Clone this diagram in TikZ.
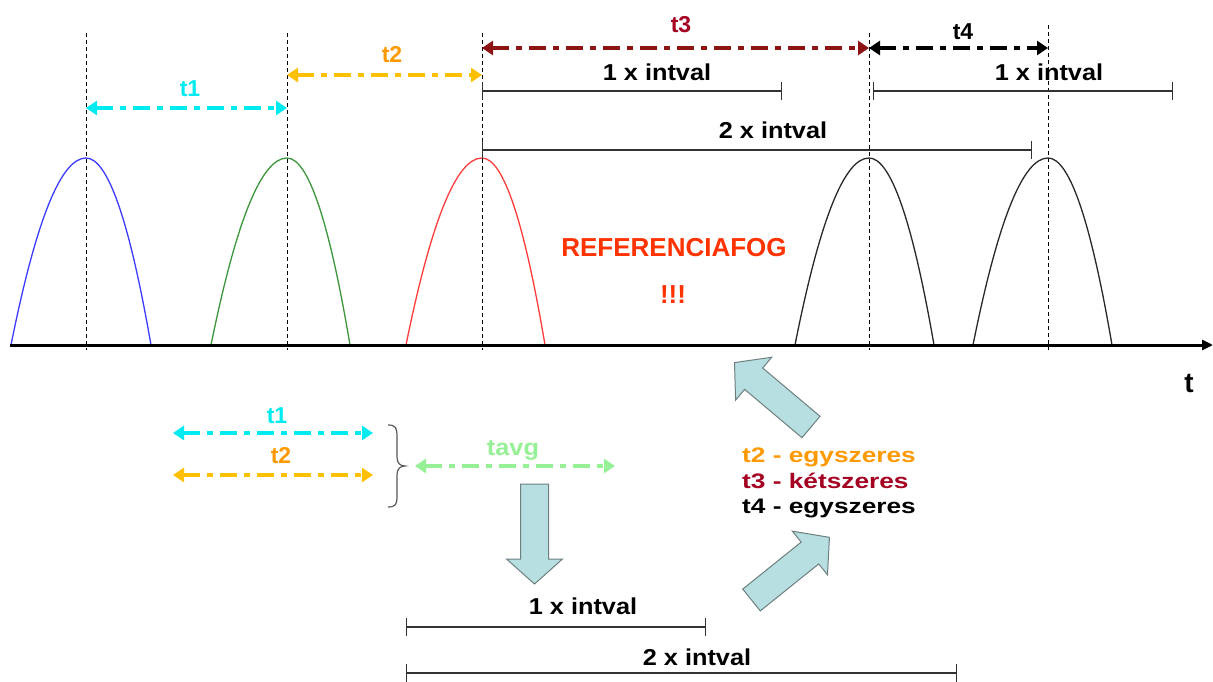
\documentclass[tikz,border=0pt]{standalone}
\usepackage{fontspec}
\setmainfont{Liberation Sans}
\usetikzlibrary{arrows.meta}

\definecolor{tone}{RGB}{0,235,240}
\definecolor{ttwoline}{RGB}{255,192,0}
\definecolor{ttwotext}{RGB}{255,153,0}
\definecolor{tthree}{RGB}{165,0,33}
\definecolor{tthreeline}{RGB}{140,20,20}
\definecolor{tavgc}{RGB}{150,240,150}
\definecolor{refred}{RGB}{255,51,0}
\definecolor{archblue}{RGB}{60,60,255}
\definecolor{archgreen}{RGB}{60,150,60}
\definecolor{archred}{RGB}{255,60,60}
\definecolor{archblack}{RGB}{40,40,40}
\definecolor{blockfill}{RGB}{183,222,224}
\definecolor{blockdraw}{RGB}{110,127,128}
\definecolor{barc}{RGB}{50,50,50}

\newcommand\widetext[2]{\scalebox{#1}[1]{#2}}

\tikzset{
  lbl/.style={font=\bfseries\fontsize{23}{27}\selectfont, inner sep=0pt, anchor=base},
  biglbl/.style={font=\bfseries\fontsize{21}{25}\selectfont, inner sep=0pt, anchor=base west},
  dimarrow/.style={line width=3.3pt, dash pattern=on 17pt off 7pt on 6pt off 7pt,
    {Triangle[length=11pt,width=14pt]}-{Triangle[length=11pt,width=14pt]}},
  intbar/.style={draw=barc, line width=1.3pt, {Bar[width=18pt,line width=1.3pt]}-{Bar[width=18pt,line width=1.3pt]}},
  guide/.style={draw=black, line width=1pt, dash pattern=on 4pt off 3pt},
  archline/.style={line width=1.3pt},
  blockstyle/.style={fill=blockfill, draw=blockdraw, line width=1pt, line join=miter},
  blockarr/.pic={\path[blockstyle] (0,-14) -- (75,-14) -- (75,-28) -- (100,0) -- (75,28) -- (75,14) -- (0,14) -- cycle;}
}

\begin{document}
\begin{tikzpicture}[x=1pt,y=-1pt]
\useasboundingbox (0,0) rectangle (1213,682);
\fill[white] (0,0) rectangle (1213,682);

% peak positions of the five teeth
\coordinate (p1) at (86,158);
\coordinate (p2) at (287,158);
\coordinate (p3) at (482,158);
\coordinate (p4) at (869,158);
\coordinate (p5) at (1048,158);

% vertical guides through the peaks
\coordinate (g1t) at (86,33);   \coordinate (g1b) at (86,350);
\coordinate (g2t) at (287,33);  \coordinate (g2b) at (287,350);
\coordinate (g3t) at (482,33);  \coordinate (g3b) at (482,350);
\coordinate (g4t) at (869,33);  \coordinate (g4b) at (869,350);
\coordinate (g5t) at (1048,25); \coordinate (g5b) at (1048,350);
\foreach \g in {1,...,5} \draw[guide] (g\g t) -- (g\g b);

% tooth signals (parabolic arches)
\foreach \xl/\xp/\xr/\c in {11/86/151/archblue, 211/287/350/archgreen, 406/482/545/archred,
                             795/869/934/archblack, 973/1048/1112/archblack}
  \draw[archline, \c] (\xl,345)
    .. controls ({\xl+(\xp-\xl)/3},220.3) and ({\xp-(\xp-\xl)/3},158) .. (\xp,158)
    .. controls ({\xp+(\xr-\xp)/3},158) and ({\xr-(\xr-\xp)/3},220.3) .. (\xr,345);

% time axis
\coordinate (ax0) at (10,345);
\coordinate (ax1) at (1213,345);
\draw[line width=3pt, -{Triangle[length=11pt,width=10pt]}] (ax0) -- (ax1);
\node[lbl, font=\bfseries\fontsize{28}{32}\selectfont] (tlab) at (1189,392) {t};

% measured periods
\coordinate (a1l) at (86,108);  \coordinate (a1r) at (287,108);
\coordinate (a2l) at (287,75);  \coordinate (a2r) at (482,75);
\coordinate (a3l) at (482,48);  \coordinate (a3r) at (869,48);
\coordinate (a4l) at (869,48);  \coordinate (a4r) at (1048,48);
\draw[dimarrow, tone] (a1l) -- (a1r);
\draw[dimarrow, ttwoline] (a2l) -- (a2r);
\draw[dimarrow, tthreeline] (a3l) -- (a3r);
\draw[dimarrow, black] (a4l) -- (a4r);
\node[lbl, text=tone] (t1top) at (190,97) {t1};
\node[lbl, text=ttwotext] (t2top) at (392,63) {t2};
\node[lbl, text=tthree] (t3top) at (681,33) {t3};
\node[lbl, text=black] (t4top) at (963,40) {t4};

% interval rulers above the teeth
\coordinate (i1l) at (482,91);  \coordinate (i1r) at (782,91);
\coordinate (i2l) at (873,91);  \coordinate (i2r) at (1173,91);
\coordinate (i3l) at (482,150); \coordinate (i3r) at (1032,150);
\draw[intbar] (i1l) -- (i1r);
\draw[intbar] (i2l) -- (i2r);
\draw[intbar] (i3l) -- (i3r);
\node[lbl] (iv1) at (657,81) {\widetext{1.1}{1 x intval}};
\node[lbl] (iv2) at (1049,81) {\widetext{1.1}{1 x intval}};
\node[lbl] (iv3) at (773,139) {\widetext{1.1}{2 x intval}};

% missing tooth marker
\node[lbl, text=refred, font=\bfseries\fontsize{26}{30}\selectfont] (ref) at (674,256) {REFERENCIAFOG};
\node[lbl, text=refred, font=\bfseries\fontsize{26}{30}\selectfont] (excl) at (673,303) {!!!};

% averaging of t1 and t2
\coordinate (b1l) at (173,433); \coordinate (b1r) at (373,433);
\coordinate (b2l) at (173,475); \coordinate (b2r) at (373,475);
\coordinate (bal) at (415,466); \coordinate (bar) at (615,466);
\draw[dimarrow, tone] (b1l) -- (b1r);
\draw[dimarrow, ttwoline] (b2l) -- (b2r);
\draw[dimarrow, tavgc] (bal) -- (bar);
\node[lbl, text=tone] (t1bot) at (277,423) {t1};
\node[lbl, text=ttwotext] (t2bot) at (281,463) {t2};
\node[lbl, text=tavgc] (tavg) at (513,455) {\widetext{1.1}{tavg}};

% curly brace joining t1 and t2
\draw[draw=black!65, line width=1.2pt]
  (388,425) .. controls (396,425) and (397,428) .. (397,437) -- (397,457)
  .. controls (397,463) and (400,466) .. (405,466)
  .. controls (400,466) and (397,469) .. (397,475) -- (397,496)
  .. controls (397,504) and (396,507) .. (388,507);

% block arrows
\pic[rotate=-90] at (534.5,484) {blockarr};
\pic[rotate=139.9] at (811,427) {blockarr};
\pic[rotate=38.8] at (751.5,600) {blockarr};

% classification of the periods
\node[biglbl, text=ttwotext] (c2) at (742,462) {\widetext{1.25}{t2 - egyszeres}};
\node[biglbl, text=tthree] (c3) at (742,488) {\widetext{1.25}{t3 - kétszeres}};
\node[biglbl, text=black] (c4) at (742,513) {\widetext{1.25}{t4 - egyszeres}};

% interval rulers below
\coordinate (j1l) at (406,627); \coordinate (j1r) at (706,627);
\coordinate (j2l) at (406,673); \coordinate (j2r) at (957,673);
\draw[intbar] (j1l) -- (j1r);
\draw[intbar] (j2l) -- (j2r);
\node[lbl] (jv1) at (583,614) {\widetext{1.1}{1 x intval}};
\node[lbl] (jv2) at (697,665) {\widetext{1.1}{2 x intval}};
\end{tikzpicture}
\end{document}
